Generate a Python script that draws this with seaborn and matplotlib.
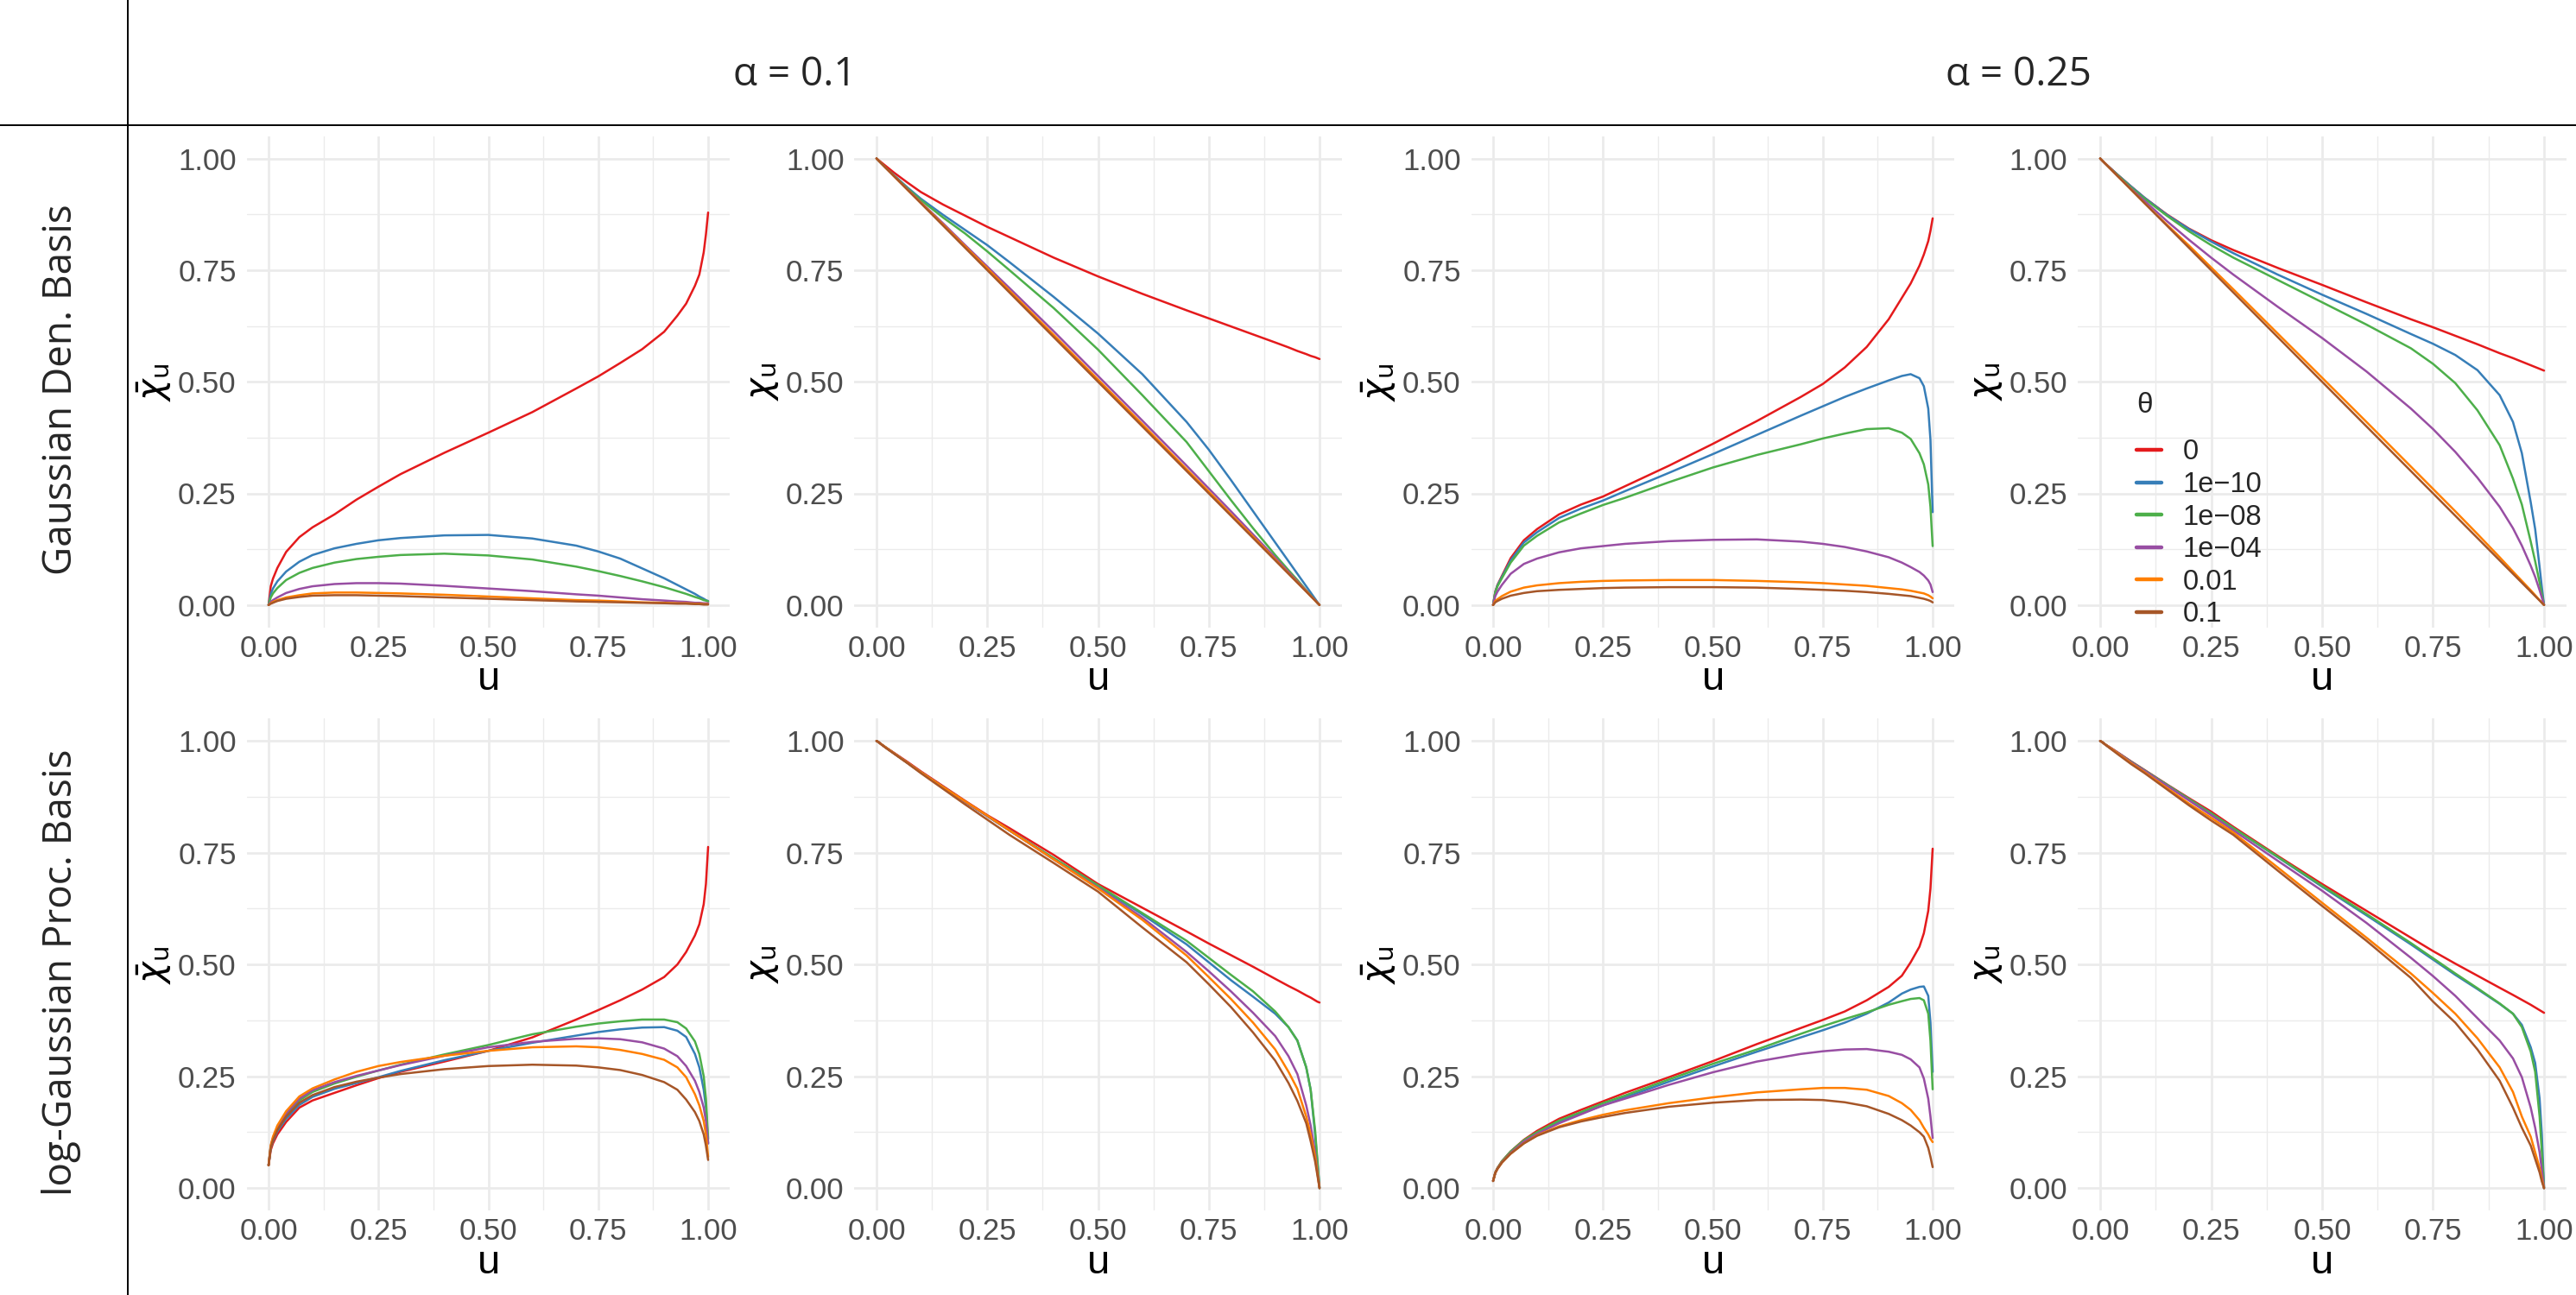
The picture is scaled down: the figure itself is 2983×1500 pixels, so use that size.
import numpy as np
import pandas as pd
import matplotlib
matplotlib.use("Agg")
import matplotlib.pyplot as plt
from matplotlib.lines import Line2D
import seaborn as sns

# u grid shared by every curve (values at these u)
U = [0, 0.005, 0.01, 0.02, 0.04, 0.07, 0.1, 0.15, 0.2, 0.25, 0.3, 0.4, 0.5,
     0.6, 0.7, 0.75, 0.8, 0.85, 0.9, 0.93, 0.95, 0.97, 0.98, 0.99, 0.995, 1.0]

THETA = ["0", "1e\u221210", "1e\u221208", "1e\u221204", "0.01", "0.1"]
COLORS = ["#E41A1C", "#377EB8", "#4DAF4A", "#984EA3", "#FF7F00", "#A65628"]

# Gaussian Den. Basis, alpha = 0.1, chi-bar
GAUSS_A010_CHIBAR = [
    [0, .042, .059, .083, .119, .152, .174, .203, .236, .265, .293, .341, .386, .432, .485, .512, .542, .573, .612, .648, .675, .715, .74, .79, .83, .879],
    [0, .025, .037, .053, .075, .097, .112, .127, .137, .145, .15, .156, .157, .149, .133, .12, .104, .082, .06, .045, .035, .025, .019, .014, .011, .009],
    [0, .017, .026, .038, .056, .072, .083, .095, .103, .108, .112, .115, .111, .102, .086, .076, .065, .053, .04, .031, .025, .018, .015, .011, .01, .008],
    [0, .007, .011, .017, .027, .036, .042, .047, .049, .049, .048, .043, .037, .031, .024, .021, .017, .013, .01, .008, .007, .005, .005, .004, .004, .004],
    [0, .004, .007, .011, .017, .022, .026, .028, .028, .027, .026, .023, .019, .015, .011, .01, .008, .006, .005, .004, .004, .003, .003, .002, .002, .002],
    [0, .003, .005, .009, .014, .018, .021, .022, .022, .021, .02, .017, .014, .011, .008, .007, .006, .005, .004, .003, .003, .002, .002, .001, .001, .001],
]
# Gaussian Den. Basis, alpha = 0.1, chi
GAUSS_A010_CHI = [
    [1, .996, .992, .984, .968, .946, .925, .897, .872, .847, .824, .778, .736, .697, .66, .642, .624, .606, .588, .577, .569, .562, .558, .555, .553, .551],
    [1, .995, .99, .98, .962, .935, .91, .874, .84, .806, .768, .69, .608, .517, .41, .348, .28, .21, .14, .098, .07, .042, .028, .014, .007, 0],
    [1, .995, .99, .98, .961, .933, .907, .868, .832, .792, .75, .665, .572, .47, .365, .3, .235, .172, .112, .078, .056, .033, .022, .011, .005, 0],
    [1, .995, .99, .98, .96, .931, .902, .855, .806, .758, .71, .613, .513, .413, .312, .261, .21, .158, .106, .074, .053, .032, .021, .011, .005, 0],
    [1, .995, .99, .98, .96, .93, .901, .852, .803, .754, .704, .605, .505, .405, .304, .254, .203, .153, .102, .071, .051, .031, .02, .01, .005, 0],
    [1, .995, .99, .98, .96, .93, .90, .85, .80, .75, .70, .60, .50, .40, .30, .25, .20, .15, .10, .07, .05, .03, .02, .01, .005, 0],
]
# Gaussian Den. Basis, alpha = 0.25, chi-bar
GAUSS_A025_CHIBAR = [
    [0, .03, .045, .065, .105, .145, .17, .203, .225, .243, .266, .312, .361, .412, .466, .495, .532, .578, .64, .688, .72, .76, .785, .815, .838, .866],
    [0, .029, .044, .063, .1, .14, .163, .195, .216, .234, .255, .296, .338, .381, .424, .445, .466, .485, .503, .513, .517, .508, .49, .44, .37, .208],
    [0, .028, .042, .06, .095, .133, .155, .185, .205, .224, .24, .275, .308, .336, .36, .373, .384, .394, .396, .386, .372, .34, .315, .27, .22, .132],
    [0, .02, .03, .045, .07, .092, .104, .118, .127, .132, .137, .143, .146, .147, .142, .137, .13, .12, .107, .095, .085, .074, .066, .055, .046, .029],
    [0, .009, .013, .02, .03, .039, .044, .049, .052, .054, .055, .056, .056, .054, .051, .049, .046, .043, .038, .035, .032, .028, .026, .022, .019, .015],
    [0, .006, .009, .014, .021, .027, .031, .034, .036, .038, .039, .04, .04, .039, .036, .034, .032, .029, .025, .022, .02, .016, .014, .011, .009, .006],
]
# Gaussian Den. Basis, alpha = 0.25, chi
GAUSS_A025_CHI = [
    [1, .995, .99, .981, .963, .937, .912, .875, .843, .817, .795, .755, .717, .678, .64, .622, .603, .584, .564, .553, .545, .537, .533, .529, .527, .525],
    [1, .995, .99, .981, .963, .937, .912, .874, .842, .814, .788, .74, .695, .652, .607, .585, .56, .526, .47, .41, .34, .23, .17, .085, .04, 0],
    [1, .995, .99, .98, .962, .935, .91, .872, .837, .806, .778, .728, .678, .628, .575, .54, .497, .436, .358, .283, .225, .142, .098, .05, .025, 0],
    [1, .995, .99, .98, .96, .932, .905, .86, .818, .778, .74, .668, .598, .523, .44, .394, .343, .285, .22, .172, .133, .088, .063, .033, .017, 0],
    [1, .995, .99, .98, .96, .93, .90, .852, .805, .756, .707, .608, .509, .41, .31, .26, .21, .159, .107, .075, .054, .033, .022, .011, .005, 0],
    [1, .995, .99, .98, .96, .93, .90, .85, .80, .75, .70, .60, .50, .40, .30, .25, .20, .15, .10, .07, .05, .03, .02, .01, .005, 0],
]
# log-Gaussian Proc. Basis, alpha = 0.1, chi-bar
LOGGP_A010_CHIBAR = [
    [.051, .085, .1, .12, .148, .18, .196, .213, .23, .246, .26, .283, .307, .337, .377, .398, .42, .444, .472, .5, .528, .565, .59, .635, .68, .763],
    [.051, .09, .105, .127, .155, .186, .204, .222, .235, .248, .262, .286, .307, .325, .341, .349, .355, .359, .36, .352, .338, .3, .27, .22, .18, .10],
    [.051, .093, .11, .133, .163, .196, .215, .234, .249, .263, .276, .299, .32, .344, .361, .368, .373, .377, .377, .371, .357, .328, .3, .25, .2, .11],
    [.051, .094, .112, .136, .167, .2, .219, .237, .251, .263, .275, .296, .315, .327, .334, .335, .333, .326, .312, .295, .273, .24, .215, .18, .15, .10],
    [.051, .096, .115, .14, .172, .205, .223, .243, .26, .273, .282, .296, .307, .315, .317, .315, .309, .3, .287, .27, .248, .21, .185, .15, .12, .07],
    [.051, .09, .107, .13, .16, .191, .208, .226, .238, .247, .255, .266, .273, .276, .274, .27, .264, .253, .237, .22, .198, .17, .15, .12, .095, .063],
]
# log-Gaussian Proc. Basis, alpha = 0.1, chi
LOGGP_A010_CHI = [
    [1, .997, .993, .986, .973, .953, .932, .899, .866, .834, .805, .745, .68, .627, .574, .547, .521, .495, .468, .452, .442, .431, .426, .42, .417, .415],
    [1, .997, .993, .986, .972, .951, .93, .897, .864, .832, .8, .737, .675, .612, .545, .505, .465, .428, .39, .36, .33, .27, .22, .12, .06, 0],
    [1, .997, .993, .986, .972, .951, .93, .897, .864, .832, .8, .738, .677, .615, .553, .515, .477, .44, .395, .36, .33, .27, .22, .13, .065, 0],
    [1, .997, .993, .986, .972, .951, .93, .897, .864, .832, .8, .735, .672, .605, .528, .485, .44, .392, .34, .295, .255, .185, .14, .08, .04, 0],
    [1, .997, .993, .986, .972, .951, .93, .897, .865, .833, .8, .735, .67, .6, .52, .472, .423, .37, .31, .26, .222, .16, .12, .07, .035, 0],
    [1, .997, .993, .985, .971, .95, .928, .893, .858, .824, .79, .727, .663, .583, .505, .456, .405, .348, .285, .235, .195, .145, .105, .06, .03, 0],
]
# log-Gaussian Proc. Basis, alpha = 0.25, chi-bar
LOGGP_A025_CHIBAR = [
    [.016, .035, .045, .06, .082, .108, .128, .155, .175, .194, .213, .248, .284, .322, .358, .376, .395, .42, .45, .475, .505, .54, .57, .62, .67, .759],
    [.016, .034, .044, .058, .079, .104, .122, .148, .167, .185, .203, .238, .272, .305, .337, .353, .37, .39, .415, .435, .444, .45, .451, .43, .37, .26],
    [.016, .035, .045, .06, .082, .107, .125, .151, .17, .19, .207, .243, .278, .31, .345, .362, .378, .393, .41, .418, .423, .425, .42, .39, .33, .221],
    [.016, .034, .044, .058, .079, .104, .121, .145, .165, .185, .2, .231, .259, .283, .3, .306, .31, .311, .305, .298, .288, .27, .245, .2, .16, .112],
    [.016, .034, .043, .057, .077, .1, .118, .138, .152, .164, .174, .19, .203, .214, .221, .224, .224, .22, .206, .19, .175, .152, .135, .12, .11, .103],
    [.016, .034, .043, .057, .077, .1, .117, .136, .149, .159, .168, .182, .191, .197, .198, .197, .192, .183, .166, .152, .14, .125, .115, .09, .07, .047],
]
# log-Gaussian Proc. Basis, alpha = 0.25, chi
LOGGP_A025_CHI = [
    [1, .997, .993, .987, .974, .954, .935, .903, .872, .842, .808, .743, .68, .62, .56, .53, .502, .475, .448, .432, .421, .41, .404, .398, .395, .392],
    [1, .997, .993, .986, .973, .953, .934, .902, .87, .838, .805, .74, .674, .61, .545, .511, .477, .445, .412, .39, .365, .315, .28, .2, .12, 0],
    [1, .997, .993, .986, .973, .953, .934, .902, .87, .838, .805, .741, .676, .613, .548, .514, .48, .447, .413, .39, .36, .305, .26, .16, .08, 0],
    [1, .997, .993, .986, .973, .952, .933, .9, .867, .834, .8, .732, .665, .593, .515, .474, .43, .38, .33, .29, .248, .18, .135, .08, .04, 0],
    [1, .997, .993, .986, .972, .95, .93, .895, .86, .828, .795, .717, .638, .56, .48, .436, .39, .335, .27, .215, .16, .115, .08, .045, .02, 0],
    [1, .997, .993, .985, .97, .948, .928, .892, .856, .822, .79, .71, .631, .553, .47, .417, .37, .31, .24, .18, .135, .095, .065, .035, .015, 0],
]

PANELS = [
    [(GAUSS_A010_CHIBAR, True), (GAUSS_A010_CHI, False), (GAUSS_A025_CHIBAR, True), (GAUSS_A025_CHI, False)],
    [(LOGGP_A010_CHIBAR, True), (LOGGP_A010_CHI, False), (LOGGP_A025_CHIBAR, True), (LOGGP_A025_CHI, False)],
]
ROW_LABELS = ["Gaussian Den. Basis", "log-Gaussian Proc. Basis"]
COL_LABELS = ["\u03b1 = 0.1", "\u03b1 = 0.25"]

W, H = 2983, 1500
# pixel positions of u=0 / u=1 per column and chi=1 / chi=0 per row
COL_X = [(311, 820), (1015, 1528), (1729, 2238), (2432, 2946)]
ROW_Y = [(183.6, 700.8), (858.2, 1376.2)]

sns.set_theme(style="whitegrid")
plt.rcParams["font.family"] = ["Liberation Sans", "DejaVu Sans"]
STRIP_FONT = ["Open Sans", "DejaVu Sans"]

fig = plt.figure(figsize=(W / 100, H / 100), dpi=100)
fig.patch.set_facecolor("white")

ticks = [0, 0.25, 0.5, 0.75, 1.0]
tick_labels = ["0.00", "0.25", "0.50", "0.75", "1.00"]
minor = [0.125, 0.375, 0.625, 0.875]

for r, row in enumerate(PANELS):
    y1, y0 = ROW_Y[r]
    for c, (series, bar) in enumerate(row):
        x0, x1 = COL_X[c]
        dx = 0.05 * (x1 - x0)
        dy = 0.05 * (y0 - y1)
        left, right = x0 - dx, x1 + dx
        top, bottom = y1 - dy, y0 + dy
        ax = fig.add_axes([left / W, 1 - bottom / H, (right - left) / W, (bottom - top) / H])

        df = pd.DataFrame({
            "u": np.tile(U, len(THETA)),
            "chi": np.concatenate(series),
            "theta": np.repeat(THETA, len(U)),
        })
        sns.lineplot(data=df, x="u", y="chi", hue="theta", hue_order=THETA,
                     palette=COLORS, sort=False, estimator=None, legend=False,
                     lw=1.8, ax=ax)

        ax.set_xlim(-0.05, 1.05)
        ax.set_ylim(-0.05, 1.05)
        ax.set_xticks(ticks)
        ax.set_xticklabels(tick_labels)
        ax.set_yticks(ticks)
        ax.set_yticklabels(tick_labels)
        ax.set_xticks(minor, minor=True)
        ax.set_yticks(minor, minor=True)
        ax.set_facecolor("white")
        ax.grid(which="major", color="#EBEBEB", lw=2.0)
        ax.grid(which="minor", color="#EBEBEB", lw=1.0)
        ax.set_axisbelow(True)
        for s in ax.spines.values():
            s.set_visible(False)
        ax.tick_params(which="both", length=0, labelsize=25, labelcolor="#4D4D4D")
        ax.tick_params(axis="y", pad=8.5)
        ax.tick_params(axis="x", pad=6)
        ax.set_xlabel("u", fontsize=34, labelpad=-2, color="black")
        ylab = r"$\bar{\chi}_\mathrm{u}$" if bar else r"$\chi_\mathrm{u}$"
        ax.set_ylabel(ylab, fontsize=30, labelpad=4, color="black")

# strip labels
fig.text(920 / W, 1 - 87 / H, COL_LABELS[0], ha="center", va="center", fontsize=33, family=STRIP_FONT)
fig.text(2337 / W, 1 - 87 / H, COL_LABELS[1], ha="center", va="center", fontsize=33, family=STRIP_FONT)
fig.text(71 / W, 1 - 451 / H, ROW_LABELS[0], ha="center", va="center", rotation=90, fontsize=33, family=STRIP_FONT)
fig.text(71 / W, 1 - 1126 / H, ROW_LABELS[1], ha="center", va="center", rotation=90, fontsize=33, family=STRIP_FONT)

# strip separators
fig.add_artist(Line2D([0, 1], [1 - 145 / H, 1 - 145 / H], color="black", lw=1.4, transform=fig.transFigure))
fig.add_artist(Line2D([148 / W, 148 / W], [0, 1], color="black", lw=1.4, transform=fig.transFigure))

# legend for theta
fig.text(2484 / W, 1 - 469 / H, "\u03b8", ha="center", va="center", fontsize=24)
handles = [Line2D([], [], color=col, lw=3.2) for col in COLORS]
fig.legend(handles, THETA, loc="upper left", bbox_to_anchor=(2474 / W, 1 - 508.5 / H),
           frameon=False, fontsize=23.5, handlelength=0.9, handletextpad=0.75,
           labelspacing=0.2, borderpad=0, borderaxespad=0)

fig.savefig("out.png", dpi=100, facecolor="white")
